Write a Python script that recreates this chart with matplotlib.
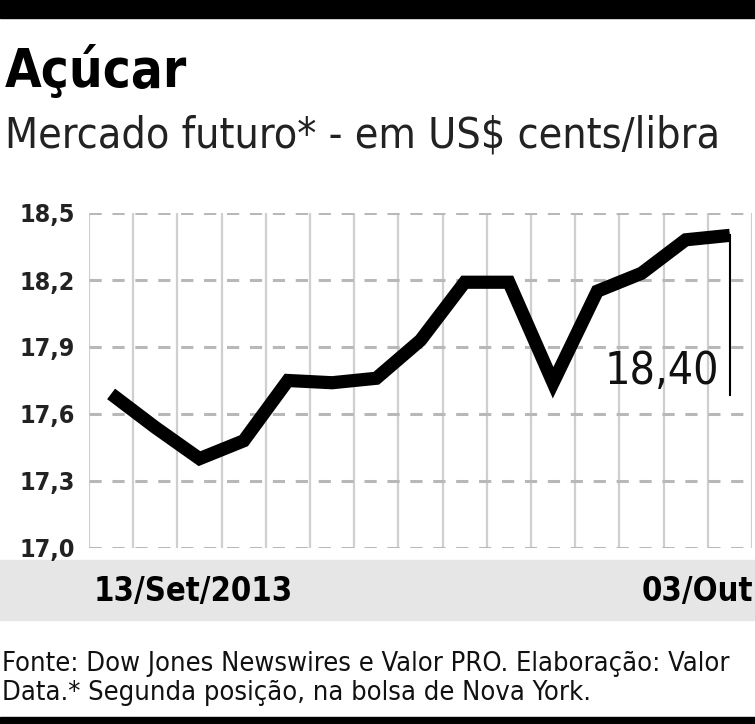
import matplotlib
matplotlib.use("Agg")
import matplotlib.pyplot as plt
from matplotlib.patches import Rectangle

# trading days 13/Set/2013 .. 03/Out/2013
dates = ["13/09", "16/09", "17/09", "18/09", "19/09", "20/09", "23/09", "24/09",
         "25/09", "26/09", "27/09", "30/09", "01/10", "02/10", "03/10"]
prices = [17.69, 17.54, 17.40, 17.48, 17.75, 17.74, 17.76, 17.93,
          18.19, 18.19, 17.74, 18.15, 18.23, 18.38, 18.40]
yticks = [17.0, 17.3, 17.6, 17.9, 18.2, 18.5]
first_label = "13/Set/2013"
last_label = "03/Out"
last_value = "18,40"

fam = "DejaVu Sans"
cond = "condensed"

W, H = 755, 724
fig = plt.figure(figsize=(W / 100, H / 100), dpi=100)

# black rules top and bottom
fig.add_artist(Rectangle((0, 1 - 18 / H), 1, 18 / H, transform=fig.transFigure,
                         color="black", zorder=0))
fig.add_artist(Rectangle((0, 0), 1, 7 / H, transform=fig.transFigure,
                         color="black", zorder=0))
# gray date band
fig.add_artist(Rectangle((0, 1 - 620 / H), 1, 60 / H, transform=fig.transFigure,
                         color="#e6e6e6", zorder=0))

fig.text(5 / W, 1 - 87 / H, "Açúcar", fontsize=38, fontweight="heavy",
         family=fam, fontstretch=cond, va="baseline", ha="left")
fig.text(5 / W, 1 - 147 / H, "Mercado futuro* - em US$ cents/libra", fontsize=30.8,
         fontweight="light", family=fam, fontstretch=cond,
         va="baseline", ha="left", color="#222222")

ax = fig.add_axes([89 / W, 1 - 548 / H, 663 / W, 335 / H])
ax.set_xlim(-0.5, len(prices) - 0.5)
ax.set_ylim(yticks[0], yticks[-1])

for i in range(len(prices) + 1):
    ax.axvline(i - 0.5, color="#cfcfcf", lw=1.6, zorder=1)
for y in yticks:
    ax.axhline(y, color="#b8b8b8", lw=2.2, ls=(0, (4, 3.5)), zorder=2)

x = list(range(len(prices)))
ax.plot(x, prices, color="black", lw=9.5, solid_joinstyle="miter",
        solid_capstyle="butt", zorder=3)

# value marker on the last point
ax.plot([x[-1], x[-1]], [prices[-1], 17.685], color="black", lw=1.5, zorder=3)
ax.text(x[-1] - 0.25, 17.79, last_value, fontsize=32, family=fam,
        fontstretch=cond, ha="right", va="center", color="#111111")

ax.set_yticks(yticks)
ax.set_yticklabels([f"{v:.1f}".replace(".", ",") for v in yticks])
ax.tick_params(axis="y", length=0, pad=10, labelsize=18, labelcolor="#222222")
for lab in ax.get_yticklabels():
    lab.set_fontweight("bold")
    lab.set_family(fam)
    lab.set_fontstretch(cond)
ax.set_xticks([])
for s in ax.spines.values():
    s.set_visible(False)
ax.patch.set_alpha(0)

fig.text(94 / W, 1 - 591 / H, first_label, fontsize=23.5, fontweight="bold",
         family=fam, fontstretch=cond, va="center", ha="left")
fig.text(753 / W, 1 - 591 / H, last_label, fontsize=23.5, fontweight="bold",
         family=fam, fontstretch=cond, va="center", ha="right")

fig.text(2 / W, 1 - 671 / H,
         "Fonte: Dow Jones Newswires e Valor PRO. Elaboração: Valor",
         fontsize=19.5, family=fam, fontstretch=cond, va="baseline",
         ha="left", color="#111111")
fig.text(2 / W, 1 - 700 / H,
         "Data.* Segunda posição, na bolsa de Nova York.",
         fontsize=19.5, family=fam, fontstretch=cond, va="baseline",
         ha="left", color="#111111")

fig.savefig("out.png", dpi=100)
